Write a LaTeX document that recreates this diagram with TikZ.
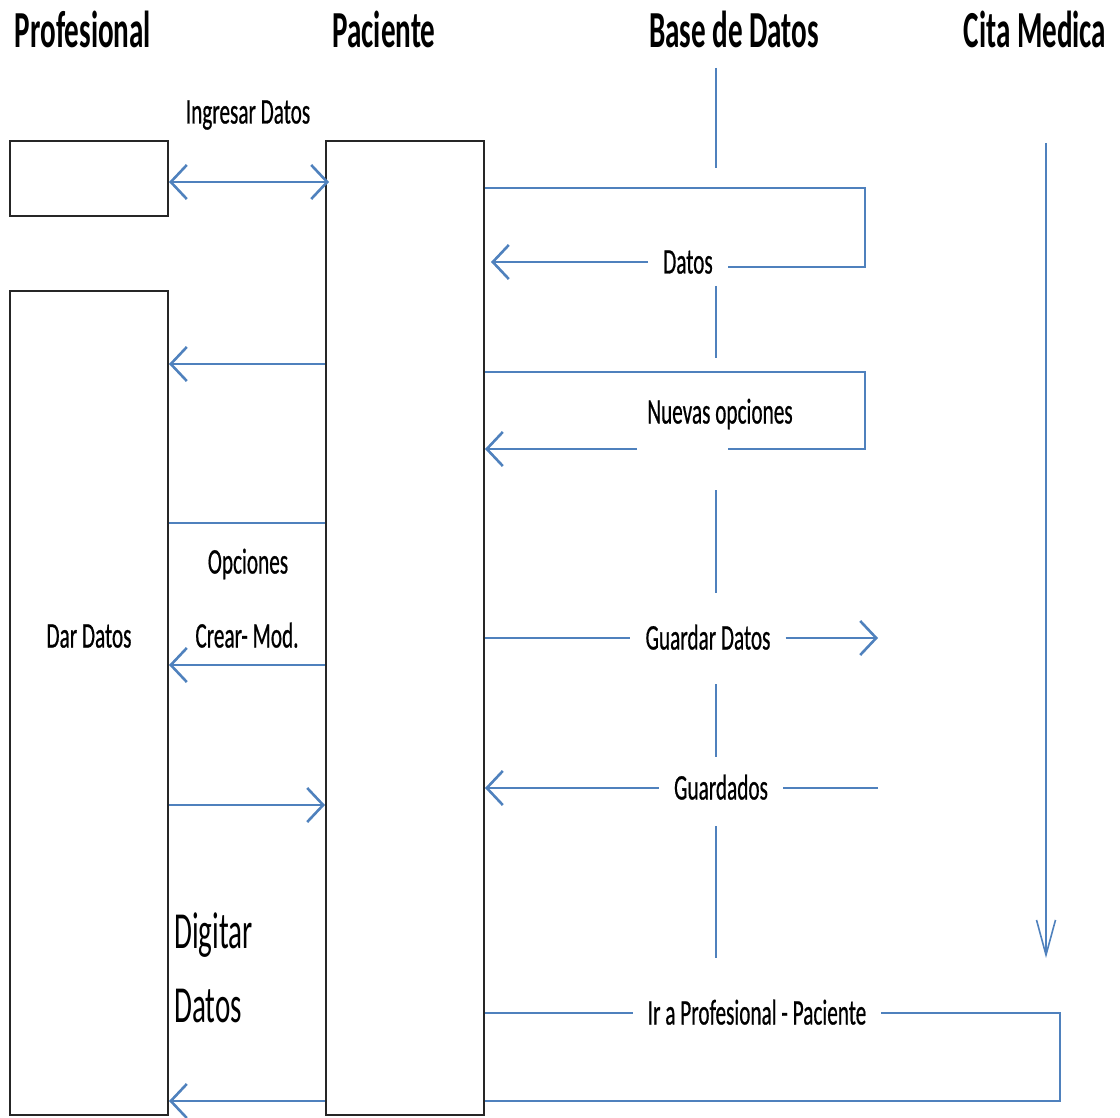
\documentclass[tikz,border=0pt]{standalone}
\usepackage{graphicx}
\usepackage{fontspec}
\setmainfont{Carlito}
\newfontfamily\lblfont{Carlito}[FakeBold=0.8]
\usetikzlibrary{arrows.meta}
\definecolor{lineblue}{HTML}{4F81BD}
\newcommand{\sq}[2][0.56]{\scalebox{#1}[1]{#2}}

\begin{document}
\begin{tikzpicture}
  [x=1pt,y=-1pt,
   box/.style={draw=black!85,line width=2pt,fill=white,inner sep=0pt,minimum width=158pt},
   hdr/.style={font=\fontsize{52}{60}\selectfont\bfseries,text height=33pt,text depth=0pt,inner sep=0pt},
   lbl/.style={font=\fontsize{36}{42}\selectfont\lblfont,text height=23pt,text depth=0pt,inner ysep=0pt,inner xsep=15pt},
   big/.style={font=\fontsize{52}{60}\selectfont,text height=33pt,text depth=0pt,inner sep=0pt,anchor=west},
   msg/.style={draw=lineblue,line width=2.6pt},
   life/.style={draw=lineblue,line width=1.6pt},
   >={Straight Barb[length=16pt,width=34pt]}]
  \useasboundingbox (0,0) rectangle (1120,1118);

  % columns
  \node[hdr] (hprof) at (83,31) {\sq{Profesional}};
  \node[hdr] (hpac) at (384,31) {\sq{Paciente}};
  \node[hdr] (hbase) at (734,31) {\sq{Base de Datos}};
  \node[hdr] (hcita) at (1035,31) {\sq{Cita Medica}};

  \node[box,minimum height=75pt] (prof1) at (89,178.5) {};
  \node[box,minimum height=824pt] (prof2) at (89,703) {};
  \node[box,minimum height=974pt] (pac) at (405,628) {};

  % texts
  \node[lbl] (ingresar) at (248,112) {\sq[0.59]{Ingresar Datos}};
  \node[lbl] (datos) at (688,262) {\sq[0.59]{Datos}};
  \node[lbl] (nuevas) at (720,412) {\sq[0.59]{Nuevas opciones}};
  \node[lbl] (opciones) at (248,562) {\sq[0.59]{Opciones}};
  \node[lbl] (crear) at (247,636) {\sq[0.59]{Crear- Mod.}};
  \node[lbl] (dar) at (89,636) {\sq[0.59]{Dar Datos}};
  \node[lbl] (guardar) at (708,638) {\sq[0.59]{Guardar Datos}};
  \node[lbl] (guardados) at (721,788) {\sq[0.59]{Guardados}};
  \node[lbl] (ira) at (757,1013) {\sq[0.59]{Ir a Profesional - Paciente}};
  \node[big] (digitar) at (174,932) {\sq{Digitar}};
  \node[big] (digdatos) at (174,1006) {\sq{Datos}};

  \coordinate (ya) at (0,182);
  \coordinate (yb) at (0,188);
  \coordinate (yd) at (0,364);
  \coordinate (ye) at (0,372);
  \coordinate (yf) at (0,449);
  \coordinate (yg) at (0,523);
  \coordinate (yh) at (0,665);
  \coordinate (yk) at (0,805);
  \coordinate (ym) at (0,1101);
  \coordinate (xloop) at (865,0);
  \coordinate (xend) at (878,0);
  \coordinate (xret) at (1060,0);
  \coordinate (gapR) at (728,449);
  \coordinate (gapL) at (637,449);
  \coordinate (citaTop) at (1046,143);
  \coordinate (citaEnd) at (1046,958);

  % lifelines
  \foreach \a/\b in {68/168,286/358,490/593,684/757,826/958}
    \draw[life] (716,\a) -- (716,\b);
  \draw[life,-{Straight Barb[length=35pt,width=19pt]}] (citaTop) -- (citaEnd);

  % messages
  \draw[msg,<->,shorten >=-4pt] (prof1.east |- ya) -- (pac.west |- ya);
  \foreach \from/\to in {pac.west |- yd/prof2.east |- yd,pac.west |- yh/prof2.east |- yh,
      prof2.east |- yk/pac.west |- yk,pac.west |- ym/prof2.east |- ym,
      gapL/pac.east |- gapL,guardar.east/xend |- guardar.east,
      guardados.west/pac.east |- guardados.west}
    \draw[msg,->] (\from) -- (\to);
  \draw[msg] (prof2.east |- yg) -- (pac.west |- yg);

  \draw[msg] (pac.east |- yb) -| ([yshift=-5pt]datos.east -| xloop) -- ([yshift=-5pt]datos.east);
  \draw[msg,->,shorten >=6pt] (datos.west) -- (pac.east |- datos.west);
  \draw[msg] (pac.east |- ye) -| (xloop |- yf) -- (gapR);
  \draw[msg] (pac.east |- guardar.west) -- (guardar.west);
  \draw[msg] (xend |- guardados.east) -- (guardados.east);
  \draw[msg] (pac.east |- ira.west) -- (ira.west);
  \draw[msg] (ira.east) -| (xret |- ym) -- (pac.east |- ym);
\end{tikzpicture}
\end{document}
